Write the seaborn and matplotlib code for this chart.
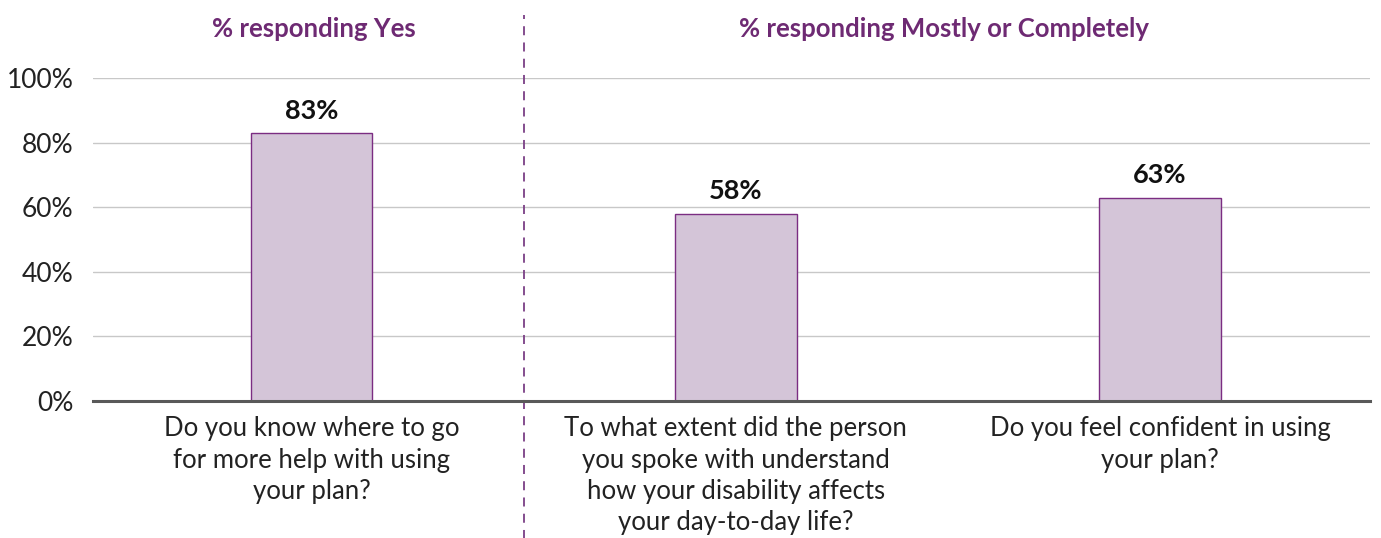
import matplotlib
matplotlib.use("Agg")
import matplotlib.pyplot as plt
import seaborn as sns
import pandas as pd

questions = [
    "Do you know where to go\nfor more help with using\nyour plan?",
    "To what extent did the person\nyou spoke with understand\nhow your disability affects\nyour day-to-day life?",
    "Do you feel confident in using\nyour plan?",
]
values = [83, 58, 63]
group_titles = ["% responding Yes", "% responding Mostly or Completely"]
yticks = [0, 20, 40, 60, 80, 100]

sns.set_theme(style="white")
plt.rcParams['font.family'] = ['Lato', 'DejaVu Sans']

df = pd.DataFrame({"question": questions, "value": values})

fig = plt.figure(figsize=(13.81, 5.38), dpi=100)
ax = fig.add_axes([93/1381, 1-401/538, (1370-93)/1381, (401-78)/538])

sns.barplot(data=df, x="question", y="value", ax=ax, color="#D4C5D8",
            edgecolor="#7B2D82", linewidth=1.0, width=0.287, saturation=1)

ax.set_xlim(-0.515, 2.495)
ax.set_ylim(0, 100)
ax.set_yticks(yticks)
ax.set_yticklabels([f"{t}%" for t in yticks], fontsize=19, color="#222222")
ax.tick_params(axis="x", labelsize=18.5, colors="#222222", length=0, pad=11)
ax.tick_params(axis="y", length=0, pad=14)
for lbl in ax.get_xticklabels():
    lbl.set_linespacing(1.32)
ax.set_xlabel("")
ax.set_ylabel("")
for t in yticks[1:]:
    ax.axhline(t, color="#C8C8C8", lw=1.0, zorder=0)
for s in ["top", "right", "left"]:
    ax.spines[s].set_visible(False)
ax.spines["bottom"].set_color("#595959")
ax.spines["bottom"].set_linewidth(2.2)
ax.spines["bottom"].set_zorder(5)

for i, v in enumerate(values):
    ax.text(i, v + 3.2, f"{v}%", ha="center", va="bottom", fontsize=19.5,
            fontweight="bold", color="#111111")

# divider
ax.plot([0.5, 0.5], [-43, 119.5], transform=ax.transData, clip_on=False,
        color="#7B3F86", lw=1.3, ls=(0, (5, 4)))

# group titles
ax.text(0.005, 115.3, group_titles[0], ha="center", va="center", fontsize=18.5,
        fontweight="bold", color="#6E2A73", clip_on=False)
ax.text(1.49, 115.3, group_titles[1], ha="center", va="center", fontsize=18.5,
        fontweight="bold", color="#6E2A73", clip_on=False)

fig.savefig("out.png", dpi=100)
